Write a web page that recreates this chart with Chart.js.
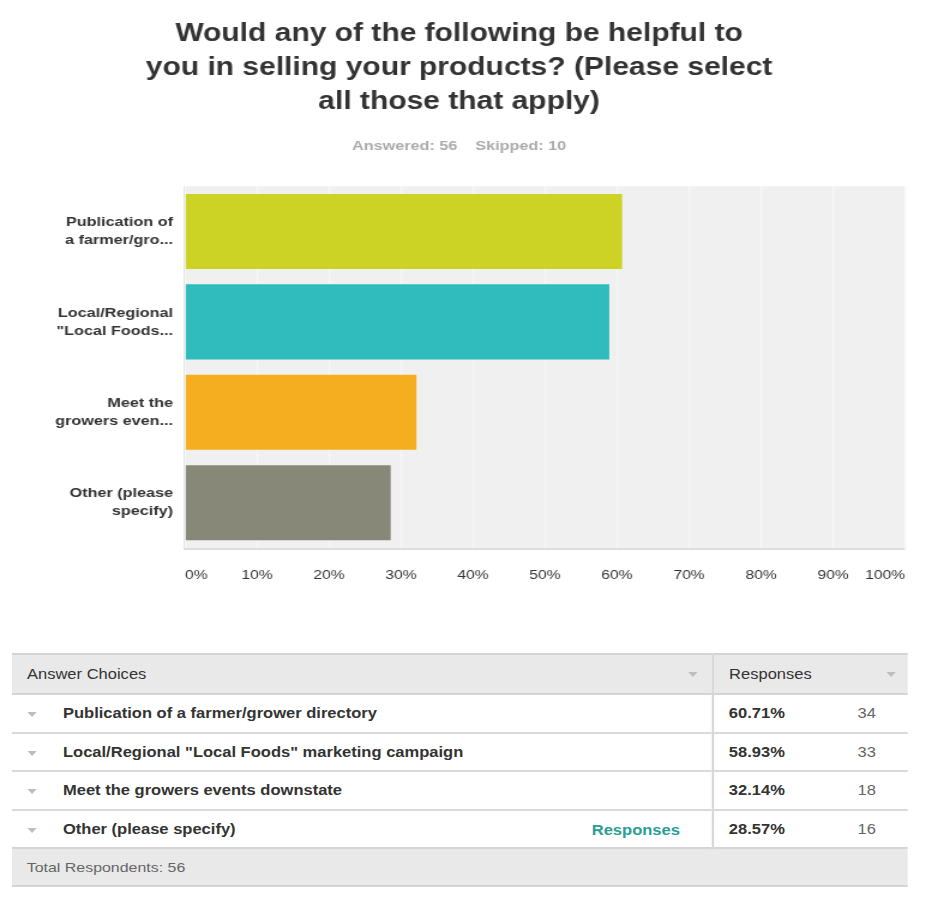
<!DOCTYPE html>
<html>
<head>
<meta charset="utf-8">
<script src="https://cdn.jsdelivr.net/npm/chart.js@4.4.1/dist/chart.umd.min.js"></script>
<style>
  body { margin: 0; background: #fff; font-family: Arial, "Liberation Sans", sans-serif; }
  #wrap { position: relative; width: 944px; height: 911px; overflow: hidden; }
  /* скриншот растянут по горизонтали, повторяем это */
  #chartBox { position: absolute; left: 0; top: 0; width: 787px; height: 600px; transform: scaleX(1.1995); transform-origin: 0 0; }
  #tblBox { position: absolute; left: 12px; top: 653px; width: 758.5px; transform: scaleX(1.18); transform-origin: 0 0; }
  table { width: 100%; border-collapse: collapse; font-size: 14px; color: #333; }
  td { height: 36.5px; border-top: 2px solid #d9d9d9; padding: 0; }
  tr.head td { background: #e9e9e9; height: 38px; border-top: 2px solid #d4d4d4; border-bottom: 2px solid #d4d4d4; }
  tr.foot td { background: #e9e9e9; height: 36px; border-top: 2px solid #d4d4d4; border-bottom: 2px solid #d4d4d4; color: #666; font-size: 13.5px; padding-left: 12.5px; }
  .ch { width: 593px; border-right: 2px solid #d9d9d9; position: relative; }
  .tri { display: inline-block; width: 0; height: 0; border-left: 4.6px solid transparent; border-right: 4.6px solid transparent; border-top: 5px solid #bdbdbd; vertical-align: middle; }
  .arr { display: inline-block; width: 43.2px; }
  .arr .tri { margin-left: 13px; }
  .lbl { font-weight: bold; }
  .pct { font-weight: bold; padding-left: 12.5px; width: 109px; }
  .cnt { color: #666; }
  .resp { position: absolute; right: 27px; top: 11px; color: #2a9d95; font-weight: bold; }
  .hdr { padding-left: 12.7px; }
  .harr { position: absolute; right: 12px; top: 17px; }
</style>
</head>
<body>
<div id="wrap">
  <div id="chartBox"><canvas id="barChart"></canvas></div>
  <div id="tblBox"><table id="tbl"></table></div>
</div>
<script>
// данные опроса
const categories = [
  ['Publication of', 'a farmer/gro...'],
  ['Local/Regional', '"Local Foods...'],
  ['Meet the', 'growers even...'],
  ['Other (please', 'specify)']
];
const fullNames = [
  'Publication of a farmer/grower directory',
  'Local/Regional "Local Foods" marketing campaign',
  'Meet the growers events downstate',
  'Other (please specify)'
];
const percents = [60.71, 58.93, 32.14, 28.57];
const counts = [34, 33, 18, 16];
const barColors = ['#cdd325', '#30bbbd', '#f5ae1f', '#888878'];
const answered = 56;
const skipped = 10;

// серый фон области графика
const plotBg = {
  id: 'plotBg',
  beforeDraw(chart) {
    const { ctx, chartArea: a } = chart;
    ctx.save();
    ctx.fillStyle = '#f0f0f0';
    ctx.fillRect(a.left, a.top, a.right - a.left, a.bottom - a.top);
    ctx.fillStyle = '#dedede';
    ctx.fillRect(a.left - 1, a.top, 1.3, a.bottom - a.top + 2);
    ctx.fillRect(a.left - 1, a.bottom, a.right - a.left + 1, 2);
    ctx.restore();
  }
};

const ctx = document.getElementById('barChart').getContext('2d');
new Chart(ctx, {
  type: 'bar',
  data: {
    labels: categories,
    datasets: [{
      data: percents,
      backgroundColor: barColors,
      borderWidth: 0,
      categoryPercentage: 1,
      barPercentage: 0.83
    }]
  },
  plugins: [plotBg],
  options: {
    indexAxis: 'y',
    responsive: true,
    maintainAspectRatio: false,
    animation: false,
    layout: { padding: { left: 10.9, right: 32.5, top: 0, bottom: 12 } },
    plugins: {
      legend: { display: false },
      tooltip: { enabled: false },
      title: {
        display: true,
        text: ['Would any of the following be helpful to', 'you in selling your products? (Please select', 'all those that apply)'],
        color: '#333',
        font: { family: 'Arial, "Liberation Sans"', size: 25, weight: 'bold', lineHeight: 1.36 },
        padding: { top: 17, bottom: 19 }
      },
      subtitle: {
        display: true,
        text: 'Answered: ' + answered + '    Skipped: ' + skipped,
        color: '#aaa',
        font: { family: 'Arial, "Liberation Sans"', size: 13.5, weight: 'bold' },
        padding: { top: 0, bottom: 32 }
      }
    },
    scales: {
      x: {
        min: 0,
        max: 100,
        grid: { color: '#f8f8f8', lineWidth: 1.3, drawTicks: false },
        border: { display: false },
        afterFit(scale) { scale.height = 40; },
        ticks: {
          stepSize: 10,
          align: 'inner',
          padding: 20,
          color: '#333',
          font: { family: 'Arial, "Liberation Sans"', size: 13 },
          callback: v => v + '%'
        }
      },
      y: {
        grid: { display: false },
        border: { display: false },
        afterFit(scale) { scale.width = 143.3; },
        ticks: {
          padding: 2,
          color: '#333',
          font: { family: 'Arial, "Liberation Sans"', size: 13.5, weight: 'bold', lineHeight: 1.333 }
        }
      }
    }
  }
});

// таблица ответов
const tbl = document.getElementById('tbl');
let html = '<tr class="head"><td class="ch"><span class="hdr">Answer Choices</span><span class="harr tri"></span></td>' +
  '<td colspan="2" style="position:relative"><span class="hdr">Responses</span><span class="harr tri" style="right:10px"></span></td></tr>';
fullNames.forEach((name, i) => {
  html += '<tr><td class="ch"><span class="arr"><span class="tri"></span></span><span class="lbl">' + name + '</span>' +
    (i === fullNames.length - 1 ? '<span class="resp">Responses</span>' : '') + '</td>' +
    '<td class="pct">' + percents[i].toFixed(2) + '%</td><td class="cnt">' + counts[i] + '</td></tr>';
});
html += '<tr class="foot"><td colspan="3">Total Respondents: ' + answered + '</td></tr>';
tbl.innerHTML = html;
</script>
</body>
</html>
